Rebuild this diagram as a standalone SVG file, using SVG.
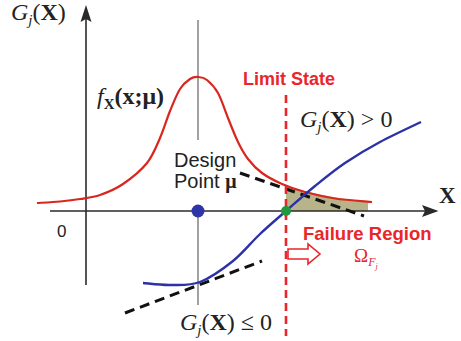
<svg xmlns="http://www.w3.org/2000/svg" width="461" height="341" viewBox="0 0 461 341">
  <defs>
    <style>
      .serif { font-family: "Liberation Serif", "Times New Roman", serif; fill: #222; }
      .sans { font-family: "Liberation Sans", Arial, sans-serif; fill: #222; }
      .red { fill: #e8262b; }
      .axis { stroke: #2a2a2a; stroke-width: 1.6; fill: none; }
      .guide { stroke: #8a8a8a; stroke-width: 1.6; fill: none; }
      .tangent { stroke: #111; stroke-width: 3; stroke-dasharray: 10 6; fill: none; }
    </style>
  </defs>
  <rect width="461" height="341" fill="#ffffff"/>

  <!-- failure region fill -->
  <path id="failure-fill" d="M286,185.6 C300,190.5 330,198 368,201.7 L368,211 L286,211 Z" fill="#b9b38a"/>

  <!-- axes -->
  <g id="axes">
    <line class="axis" x1="86" y1="285" x2="86" y2="18"/>
    <path d="M86,5 L91.5,22 L86,19 L80.5,22 Z" fill="#2a2a2a"/>
    <line class="axis" x1="50" y1="211" x2="426" y2="211"/>
    <path d="M438.5,211 L422,205 L425,211 L422,217 Z" fill="#2a2a2a"/>
  </g>

  <!-- design point vertical guide -->
  <g id="design-guide">
    <line class="guide" x1="198" y1="20" x2="198" y2="140"/>
    <line class="guide" x1="198" y1="211" x2="198" y2="305"/>
  </g>

  <!-- pdf curve -->
  <path id="pdf-curve" fill="none" stroke="#d9271f" stroke-width="2.2" d="M37,203 C40.8,202.75 52.8,202.2 60,201.5 C67.2,200.8 73.3,200.1 80,199 C86.7,197.9 92.8,197.5 100,195 C107.2,192.5 115.2,189.3 123,184 C130.8,178.7 140.8,170.7 147,163 C153.2,155.3 156.2,146.7 160,138 C163.8,129.3 166.7,119.2 170,111 C173.3,102.8 176.7,94.3 180,89 C183.3,83.7 187,81 190,79 C193,77 195.2,76.8 198,77 C200.8,77.2 203.7,77.3 207,80 C210.3,82.7 214.5,86.7 218,93 C221.5,99.3 224.7,109.8 228,118 C231.3,126.2 234.7,135.2 238,142 C241.3,148.8 244,153.8 248,159 C252,164.2 256.3,168.8 262,173 C267.7,177.2 274.8,180.8 282,184 C289.2,187.2 296.2,189.6 305,192 C313.8,194.4 323.8,196.8 335,198.5 C346.2,200.2 365.8,201.4 372,202"/>

  <!-- tangent dashed lines -->
  <g id="tangents">
    <line class="tangent" x1="240" y1="173" x2="364" y2="216"/>
    <line class="tangent" x1="125" y1="313" x2="262" y2="261"/>
  </g>

  <!-- limit state function curve -->
  <path id="limit-curve" fill="none" stroke="#2b32a6" stroke-width="2.4" d="M143,283 C147.5,283.3 160.5,285.2 170,285 C179.5,284.8 189.5,286 200,282 C210.5,278 223,269 233,261 C243,253 251.2,242.3 260,234 C268.8,225.7 276.8,219 286,211 C295.2,203 305.2,194 315,186 C324.8,178 334.2,170.3 345,163 C355.8,155.7 367.3,148.8 380,142 C392.7,135.2 414.2,125.3 421,122"/>

  <!-- limit state dashed line -->
  <line id="limit-line" x1="286" y1="95" x2="286" y2="336" stroke="#e8262b" stroke-width="2.6" stroke-dasharray="8 5"/>

  <!-- points -->
  <circle id="design-point" cx="198" cy="211" r="6.5" fill="#2e35a8"/>
  <circle id="mpp-point" cx="286" cy="211" r="5" fill="#1e9a3c"/>

  <!-- hollow arrow -->
  <polygon id="failure-arrow" points="288,249 308,249 308,244 320,254 308,264 308,259 288,259" fill="#ffffff" stroke="#e8262b" stroke-width="1.6"/>

  <!-- labels -->
  <g id="labels">
    <text class="serif" x="11" y="20" font-size="24"><tspan font-style="italic">G</tspan><tspan font-style="italic" font-size="15" dy="5">j</tspan><tspan dy="-5">(</tspan><tspan font-weight="bold">X</tspan>)</text>
    <text class="serif" x="97" y="104" font-size="24"><tspan font-style="italic">f</tspan><tspan font-weight="bold" font-size="15" dy="5">X</tspan><tspan font-weight="bold" dy="-5">(x;μ)</tspan></text>
    <text class="sans red" x="243" y="85" font-size="18" font-weight="bold">Limit State</text>
    <text class="serif" x="300" y="127" font-size="24"><tspan font-style="italic">G</tspan><tspan font-style="italic" font-size="15" dy="5">j</tspan><tspan dy="-5">(</tspan><tspan font-weight="bold">X</tspan>) &gt; 0</text>
    <text class="sans" x="174" y="167" font-size="20">Design</text>
    <text class="sans" x="174" y="188" font-size="20">Point <tspan class="serif" font-weight="bold">μ</tspan></text>
    <text class="serif" x="439" y="203" font-size="23" font-weight="bold">X</text>
    <text class="sans" x="57" y="237" font-size="17">0</text>
    <text class="sans red" x="303" y="240" font-size="18.5" font-weight="bold">Failure Region</text>
    <text class="serif red" x="354" y="262" font-size="19">Ω<tspan font-style="italic" font-size="12" dy="4">F</tspan><tspan font-style="italic" font-size="8" dy="3">j</tspan></text>
    <text class="serif" x="180" y="330" font-size="24"><tspan font-style="italic">G</tspan><tspan font-style="italic" font-size="15" dy="5">j</tspan><tspan dy="-5">(</tspan><tspan font-weight="bold">X</tspan>) ≤ 0</text>
  </g>
</svg>
